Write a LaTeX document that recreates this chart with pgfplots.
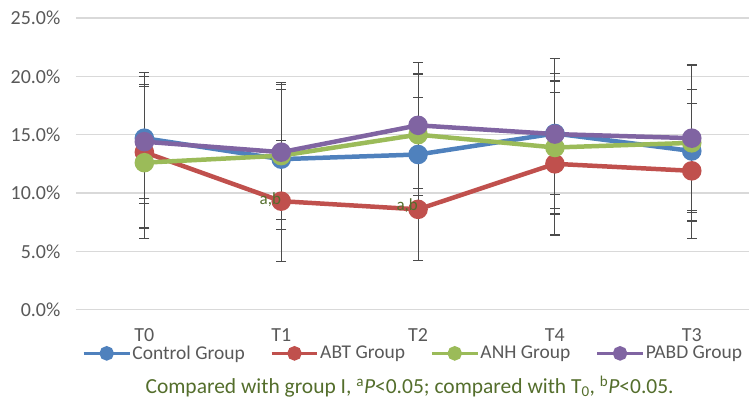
\documentclass[border=0pt]{standalone}
\usepackage{pgfplots}
\pgfplotsset{compat=1.18}
\usepackage{fontspec}
\setmainfont{Carlito}

\definecolor{cblue}{RGB}{79,129,189}
\definecolor{cred}{RGB}{192,80,77}
\definecolor{cgreen}{RGB}{155,187,89}
\definecolor{cpurple}{RGB}{128,100,162}
\definecolor{txtgray}{RGB}{89,89,89}
\definecolor{olive}{RGB}{84,110,44}
\definecolor{errgray}{RGB}{75,75,75}

\begin{document}
\begin{tikzpicture}
\begin{axis}[
    name=ax,
    scale only axis,
    width=674pt, height=292pt,
    xmin=-0.5, xmax=4.42,
    ymin=0, ymax=25,
    xtick={0,1,2,3,4},
    xticklabels={T0,T1,T2,T4,T3},
    ytick={0,5,10,15,20,25},
    yticklabel={\pgfmathprintnumber[fixed,fixed zerofill,precision=1]{\tick}\%},
    /pgf/number format/assume math mode=true,
    ymajorgrids=true,
    grid style={draw=black!15, line width=1.5pt},
    axis line style={draw=none},
    major tick length=0pt,
    tick label style={font=\fontsize{20}{22}\selectfont, text=txtgray},
    xticklabel style={inner sep=0pt, yshift=-19pt},
    yticklabel style={xshift=-12pt},
    every axis plot/.append style={line width=4.5pt, mark=*, mark size=7.5pt},
    error bars/error bar style={draw=errgray, line width=1.1pt},
    error bars/error mark options={rotate=90, mark size=5pt, line width=1.1pt, draw=errgray},
    legend columns=4,
    legend style={at={(0.5,0)}, anchor=north, yshift=-33pt, draw=none, fill=none,
      font=\fontsize{19.5}{21}\selectfont, text=txtgray,
      /tikz/every even column/.append style={column sep=24pt},
      nodes={inner sep=1pt}},
    legend image code/.code={
      \draw[#1, line width=3.5pt, mark size=5.5pt, mark repeat=2, mark phase=2]
        plot coordinates {(0pt,0pt) (23pt,0pt) (46pt,0pt)};},
  ]

  \addplot[color=cblue, error bars/.cd, y dir=both, y explicit]
    coordinates {
      (0,14.7) +- (0,5.6)
      (1,12.9) +- (0,6.0)
      (2,13.3) +- (0,4.9)
      (3,15.1) +- (0,6.4)
      (4,13.6) +- (0,5.25)
    };
  \addlegendentry{Control Group}

  \addplot[color=cred, error bars/.cd, y dir=both, y explicit]
    coordinates {
      (0,13.5) +- (0,6.5)
      (1,9.3) +- (0,5.2)
      (2,8.6) +- (0,4.35)
      (3,12.5) +- (0,6.1)
      (4,11.9) +- (0,5.8)
    };
  \addlegendentry{ABT Group}

  \addplot[color=cgreen, error bars/.cd, y dir=both, y explicit]
    coordinates {
      (0,12.6) +- (0,6.5)
      (1,13.2) +- (0,6.3)
      (2,15.0) +- (0,5.2)
      (3,13.9) +- (0,5.7)
      (4,14.3) +- (0,6.7)
    };
  \addlegendentry{ANH Group}

  \addplot[color=cpurple, error bars/.cd, y dir=both, y explicit]
    coordinates {
      (0,14.4) +- (0,4.9)
      (1,13.5) +- (0,5.8)
      (2,15.8) +- (0,5.4)
      (3,15.05) +- (0,5.2)
      (4,14.7) +- (0,6.2)
    };
  \addlegendentry{PABD Group}

  \coordinate (ab1) at (axis cs:1,9.45);
  \coordinate (ab2) at (axis cs:2,8.95);
\end{axis}
\node[anchor=east, text=olive, font=\fontsize{17}{19}\selectfont, inner sep=0pt] at (ab1) {a,b};
\node[anchor=east, text=olive, font=\fontsize{17}{19}\selectfont, inner sep=0pt] at (ab2) {a,b};
\node[text=olive, font=\fontsize{21.5}{23}\selectfont, anchor=base]
  at ([xshift=-3pt,yshift=-84pt]ax.south) {Compared with group I, \textsuperscript{a}\textit{P}<0.05; compared with T\textsubscript{0}, \textsuperscript{b}\textit{P}<0.05.};
\path ([xshift=-76pt,yshift=-90pt]ax.south west) rectangle ([yshift=18pt]ax.north east);
\end{tikzpicture}
\end{document}
